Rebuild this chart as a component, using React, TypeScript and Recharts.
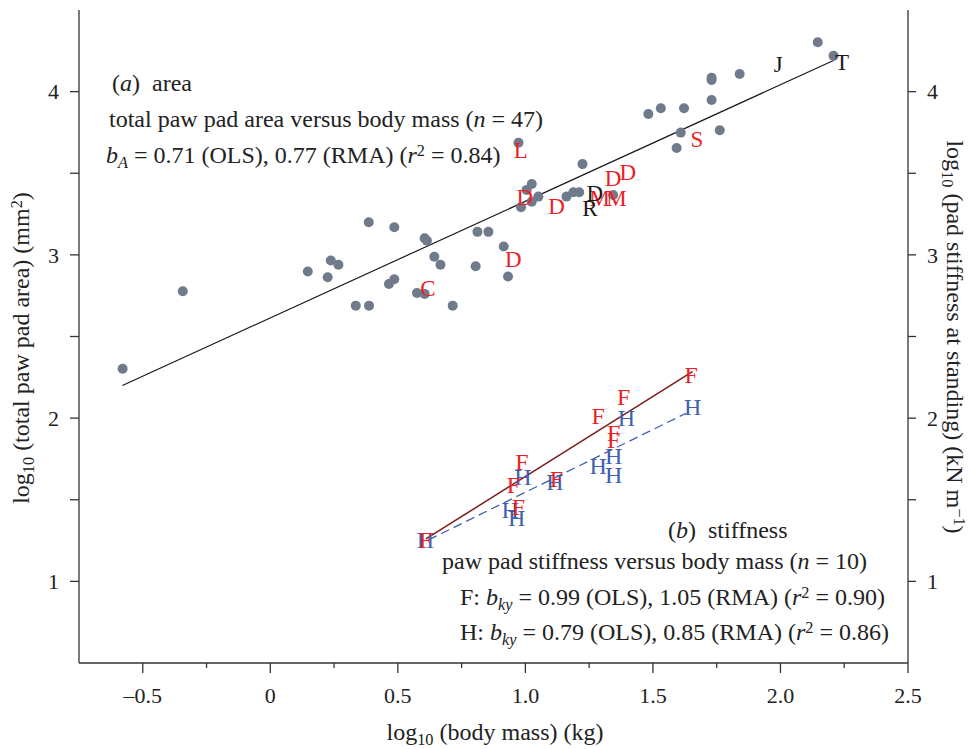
import React from "react";
import { ComposedChart, Scatter, XAxis, YAxis } from "recharts";

const SERIF = '"Liberation Serif", "DejaVu Serif", serif';
const AXIS = "#333";
const GREY = "#6f7b8b";
const RED = "#ec1f27";
const BLUE = "#3f5fb0";
const MAROON = "#7a1c1c";
const INK = "#1a1a1a";

// (a) area: log10 body mass (kg) vs log10 total paw pad area (mm^2)
const areaMass = [
  -0.579, -0.343, 0.147, 0.225, 0.237, 0.267, 0.335, 0.387, 0.386, 0.465, 0.486, 0.486,
  0.575, 0.605, 0.605, 0.614, 0.643, 0.667, 0.715, 0.805, 0.812, 0.855, 0.915, 0.932,
  0.973, 0.983, 1.005, 1.025, 1.025, 1.051, 1.161, 1.188, 1.211, 1.224, 1.344, 1.482,
  1.531, 1.593, 1.609, 1.622, 1.73, 1.73, 1.73, 1.762, 1.84, 2.146, 2.208,
];
const areaLog = [
  2.302, 2.777, 2.898, 2.863, 2.965, 2.939, 2.689, 2.689, 3.2, 2.822, 2.851, 3.169,
  2.767, 2.761, 3.102, 3.087, 2.989, 2.939, 2.689, 2.93, 3.141, 3.141, 3.051, 2.867,
  3.687, 3.292, 3.398, 3.434, 3.326, 3.357, 3.357, 3.384, 3.384, 3.556, 3.367, 3.863,
  3.898, 3.655, 3.749, 3.898, 3.949, 4.071, 4.085, 3.763, 4.108, 4.302, 4.22,
];
const areaFitMass = [-0.58, 2.21];
const areaFitLog = [2.2, 4.192];

const redTagText = ["L", "D", "D", "C", "D", "M", "M", "D", "D", "S"];
const redTagMass = [0.982, 0.998, 0.953, 0.618, 1.122, 1.291, 1.357, 1.344, 1.402, 1.672];
const redTagLog = [3.638, 3.353, 2.969, 2.793, 3.296, 3.347, 3.347, 3.469, 3.504, 3.708];

const blackTagText = ["D", "R", "J", "T"];
const blackTagMass = [1.272, 1.253, 1.991, 2.241];
const blackTagLog = [3.377, 3.286, 4.165, 4.177];

// (b) stiffness (right axis): fore (F) and hind (H) paws
const foreMass = [1.65, 1.385, 1.285, 1.346, 1.346, 0.986, 0.953, 1.122, 0.973, 0.608];
const foreStiff = [2.265, 2.132, 2.01, 1.908, 1.867, 1.734, 1.591, 1.626, 1.458, 1.254];
const hindMass = [1.656, 1.396, 1.346, 1.285, 1.346, 0.99, 1.116, 0.94, 0.966, 0.608];
const hindStiff = [2.071, 2.0, 1.765, 1.708, 1.652, 1.642, 1.606, 1.438, 1.387, 1.254];

const foreFitMass = [0.61, 1.655];
const foreFitStiff = [1.26, 2.285];
const hindFitMass = [0.62, 1.63];
const hindFitStiff = [1.254, 2.03];

const xTicks = [-0.5, -0.25, 0, 0.25, 0.5, 0.75, 1, 1.25, 1.5, 1.75, 2, 2.25, 2.5];
const xMajor = [-0.5, 0, 0.5, 1, 1.5, 2, 2.5];
const yTicks = [1, 1.5, 2, 2.5, 3, 3.5, 4];

const pts = (xs: number[], ys: number[], tags?: string[]) =>
  xs.map((x, i) => ({ x, y: ys[i], t: tags ? tags[i] : "" }));

const fmtX = (v: number) => {
  if (v === 0) return "0";
  const s = Math.abs(v).toFixed(1);
  return v < 0 ? "\u2013" + s : s;
};

const XTick = (props: any) => {
  const { x, y, payload } = props;
  const major = xMajor.includes(payload.value);
  return (
    <g>
      <line x1={x} x2={x} y1={y} y2={y + (major ? 10 : 5)} stroke={AXIS} strokeWidth={1.3} />
      {major && (
        <text x={x} y={y + 40} textAnchor="middle" fontFamily={SERIF} fontSize={22} fill="#222">
          {fmtX(payload.value)}
        </text>
      )}
    </g>
  );
};

const dot = (p: any) => <circle cx={p.cx} cy={p.cy} r={5} fill={GREY} />;
const none = () => <g />;
const tag = (colour: string, size: number) => (p: any) => (
  <text
    x={p.cx}
    y={p.cy}
    fill={colour}
    fontSize={size}
    fontFamily={SERIF}
    textAnchor="middle"
    dominantBaseline="central"
  >
    {p.payload.t}
  </text>
);

const text = (left: number, centre: number, size = 24): React.CSSProperties => ({
  position: "absolute",
  left,
  top: centre - 15,
  fontFamily: SERIF,
  fontSize: size,
  lineHeight: "30px",
  whiteSpace: "nowrap",
  color: "#222",
});
const sub: React.CSSProperties = { fontSize: "0.68em", position: "relative", top: "0.3em" };
const sup: React.CSSProperties = { fontSize: "0.68em", position: "relative", top: "-0.45em" };
const intLabel = (v: number) => (Number.isInteger(v) ? String(v) : "");

export default function App() {
  return (
    <div style={{ position: "absolute", left: 0, top: 0, width: 971, height: 749, background: "#fff" }}>
      <ComposedChart width={971} height={749} margin={{ top: 10, right: 0, left: 0, bottom: 0 }}>
        <XAxis
          dataKey="x"
          type="number"
          domain={[-0.75, 2.5]}
          ticks={xTicks}
          interval={0}
          height={86}
          tickSize={0}
          tickMargin={0}
          tickLine={false}
          tick={<XTick />}
          stroke={AXIS}
          strokeWidth={1.3}
        />
        <XAxis
          xAxisId="top"
          orientation="top"
          type="number"
          domain={[-0.75, 2.5]}
          height={0}
          tick={false}
          tickLine={false}
          stroke={AXIS}
          strokeWidth={1.3}
        />
        <YAxis
          dataKey="y"
          type="number"
          domain={[0.5, 4.5]}
          ticks={yTicks}
          interval={0}
          width={79}
          tickSize={9}
          tickMargin={11}
          tickFormatter={intLabel}
          tick={{ fontSize: 22, fontFamily: SERIF, fill: "#222" }}
          stroke={AXIS}
          strokeWidth={1.3}
        />
        <YAxis
          yAxisId="right"
          orientation="right"
          dataKey="y"
          type="number"
          domain={[0.5, 4.5]}
          ticks={yTicks}
          interval={0}
          width={63}
          tickSize={8}
          tickMargin={11}
          tickFormatter={intLabel}
          tick={{ fontSize: 22, fontFamily: SERIF, fill: "#222" }}
          stroke={AXIS}
          strokeWidth={1.3}
        />
        <Scatter data={pts(areaFitMass, areaFitLog)} line={{ stroke: INK, strokeWidth: 1.2 }} shape={none} isAnimationActive={false} />
        <Scatter data={pts(areaMass, areaLog)} shape={dot} isAnimationActive={false} />
        <Scatter data={pts(redTagMass, redTagLog, redTagText)} shape={tag(RED, 23)} isAnimationActive={false} />
        <Scatter data={pts(blackTagMass, blackTagLog, blackTagText)} shape={tag(INK, 23)} isAnimationActive={false} />
        <Scatter
          yAxisId="right"
          data={pts(foreFitMass, foreFitStiff)}
          line={{ stroke: MAROON, strokeWidth: 1.5 }}
          shape={none}
          isAnimationActive={false}
        />
        <Scatter
          yAxisId="right"
          data={pts(hindFitMass, hindFitStiff)}
          line={{ stroke: BLUE, strokeWidth: 1.3, strokeDasharray: "9 5" }}
          shape={none}
          isAnimationActive={false}
        />
        <Scatter
          yAxisId="right"
          data={pts(hindMass, hindStiff, hindMass.map(() => "H"))}
          shape={tag(BLUE, 24)}
          isAnimationActive={false}
        />
        <Scatter
          yAxisId="right"
          data={pts(foreMass, foreStiff, foreMass.map(() => "F"))}
          shape={tag(RED, 24)}
          isAnimationActive={false}
        />
      </ComposedChart>

      <div style={text(112, 83)}>
        (<i>a</i>)&nbsp; area
      </div>
      <div style={text(109, 119)}>
        total paw pad area versus body mass (<i>n</i> = 47)
      </div>
      <div style={text(106, 155)}>
        <i>b</i>
        <span style={sub}><i>A</i></span> = 0.71 (OLS), 0.77 (RMA) (<i>r</i>
        <span style={sup}>2</span> = 0.84)
      </div>

      <div style={text(668, 530)}>
        (<i>b</i>)&nbsp; stiffness
      </div>
      <div style={text(442, 561)}>
        paw pad stiffness versus body mass (<i>n</i> = 10)
      </div>
      <div style={text(460, 597)}>
        F: <i>b</i>
        <span style={sub}><i>ky</i></span> = 0.99 (OLS), 1.05 (RMA) (<i>r</i>
        <span style={sup}>2</span> = 0.90)
      </div>
      <div style={text(460, 632)}>
        H: <i>b</i>
        <span style={sub}><i>ky</i></span> = 0.79 (OLS), 0.85 (RMA) (<i>r</i>
        <span style={sup}>2</span> = 0.86)
      </div>

      <div
        style={{
          ...text(0, 0, 24),
          left: 22,
          top: 348,
          transform: "translate(-50%, -50%) rotate(-90deg)",
        }}
      >
        log<span style={sub}>10</span> (total paw pad area) (mm<span style={sup}>2</span>)
      </div>
      <div
        style={{
          ...text(0, 0, 24),
          left: 953,
          top: 337,
          transform: "translate(-50%, -50%) rotate(90deg)",
        }}
      >
        log<span style={sub}>10</span> (pad stiffness at standing) (kN m<span style={sup}>{"\u22121"}</span>)
      </div>
      <div
        style={{
          ...text(0, 0, 24),
          left: 495,
          top: 733,
          transform: "translate(-50%, -50%)",
        }}
      >
        log<span style={sub}>10</span> (body mass) (kg)
      </div>
    </div>
  );
}
